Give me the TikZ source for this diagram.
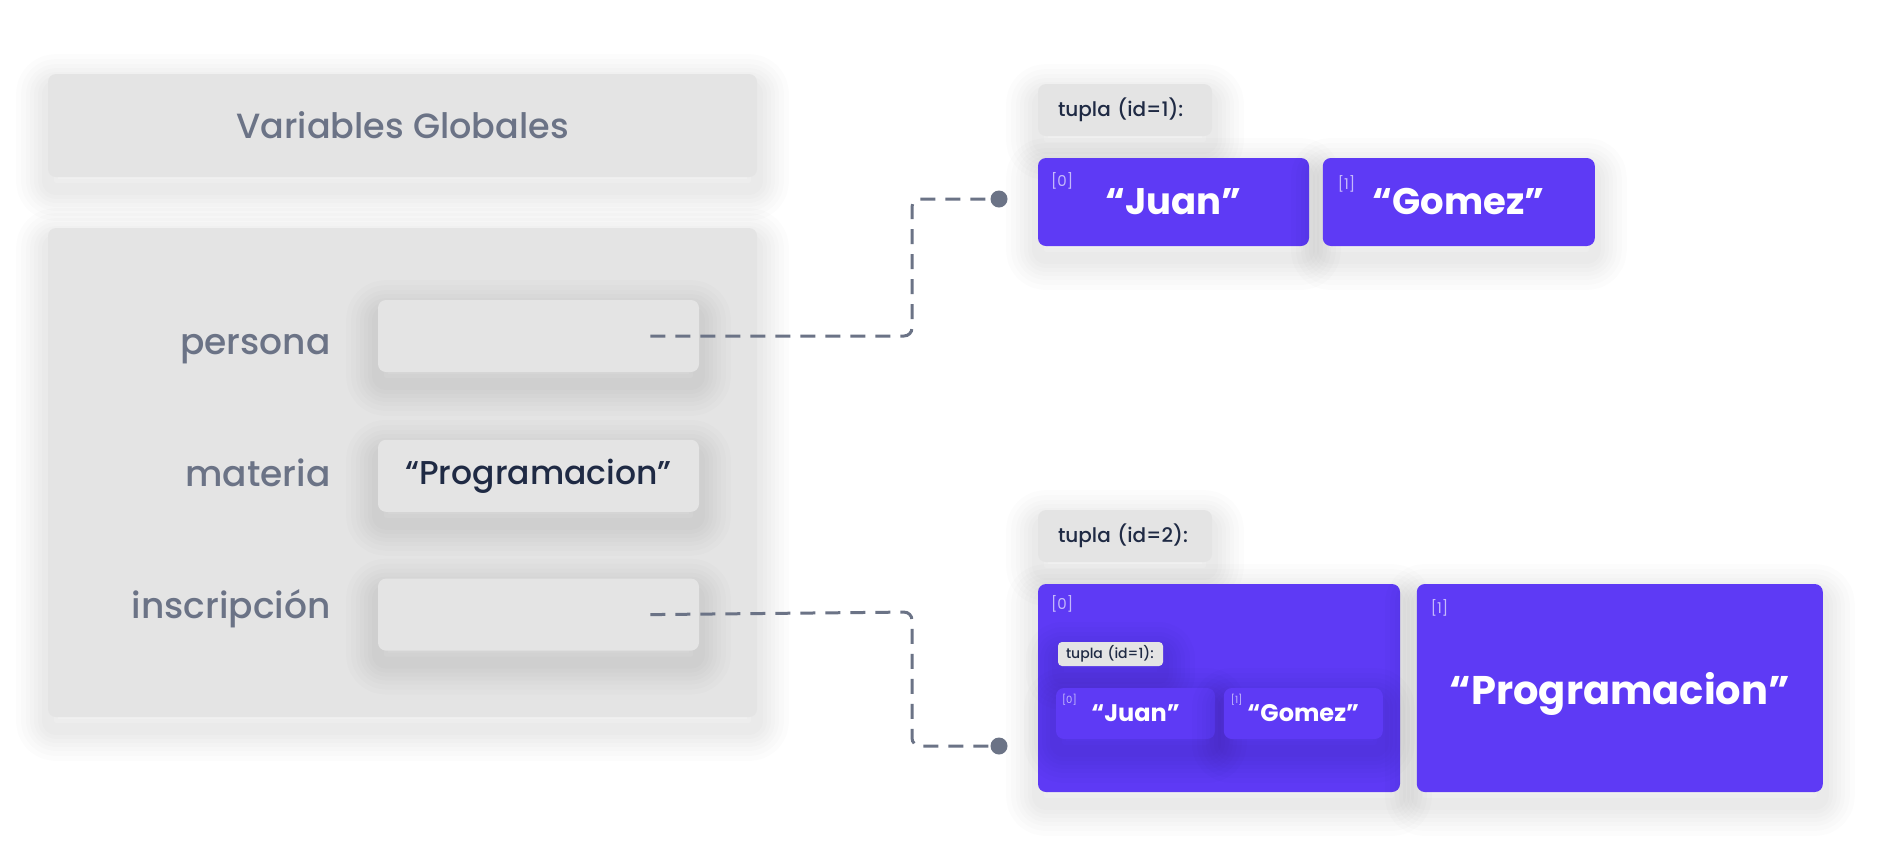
\documentclass[tikz,border=0pt]{standalone}
\usepackage{fontspec}
\setmainfont{Poppins}[UprightFont=* Medium, BoldFont=* Bold]
\newfontfamily\thinfont{Poppins}
\usetikzlibrary{positioning,calc}

\definecolor{boxgray}{HTML}{E4E4E4}
\definecolor{namegray}{HTML}{6B7386}
\definecolor{inkblue}{HTML}{1F2A44}
\definecolor{tuplecol}{HTML}{5E3AF5}
\definecolor{indexcol}{HTML}{C4B8FB}

\begin{document}
\begin{tikzpicture}[
    x=0.5pt, y=-0.5pt,
    halo/.style={preaction={draw=black, draw opacity=0.011, line width=#1, line join=round, transform canvas={yshift=-6pt}}},
    soft/.style={halo=32pt, halo=27pt, halo=22pt, halo=18pt, halo=14pt, halo=10pt, halo=6pt},
    gbox/.style={rectangle, fill=boxgray, rounded corners=4pt, inner sep=0pt, soft},
    valbox/.style={gbox, minimum width=160.5pt, minimum height=36pt, font=\fontsize{16.5}{20}\selectfont, text=inkblue},
    varname/.style={anchor=base east, inner sep=0pt, text=namegray, font=\fontsize{18}{21}\selectfont},
    taglabel/.style={gbox, align=left, text width=67pt, inner xsep=10pt, minimum height=26pt, text=inkblue, font=\fontsize{10}{12}\selectfont},
    elem/.style={rectangle, fill=tuplecol, rounded corners=4pt, inner sep=0pt, soft, text=white, font=\bfseries\fontsize{18.5}{22}\selectfont},
    idx/.style={anchor=north west, inner sep=0pt, text=indexcol, font=\thinfont\fontsize{7.5}{9}\selectfont},
    ptr/.style={draw=namegray, line width=1.5pt, dash pattern=on 7.5pt off 5pt, rounded corners=4pt},
    tip/.style={circle, fill=namegray, inner sep=0pt, minimum size=8.5pt}
]
    \fill[white] (0,0) rectangle (1880,864);
    \useasboundingbox (0,0) rectangle (1880,864);

    % variables globales
    \node[gbox, minimum width=354.5pt, minimum height=51.5pt, text=namegray, font=\fontsize{17.5}{21}\selectfont] (globales) at (402.5,125.5) {Variables Globales};
    \node[gbox, minimum width=354.5pt, minimum height=244.5pt] (marco) at (402.5,472.5) {};

    \node[valbox] (persona) at (538.5,336) {};
    \node[valbox, below=33.5pt of persona] (materia) {“Programacion”};
    \node[valbox, below=33pt of materia] (inscripcion) {};

    \node[varname] (nPersona) at (331,354) {persona};
    \node[varname] (nMateria) at (331,486) {materia};
    \node[varname] (nInscripcion) at (331,618) {inscripción};

    % tupla 1
    \node[taglabel] (tag1) at (1125,110) {tupla (id=1):};
    \node[elem, minimum width=135.5pt, minimum height=44pt] (juan) at (1173.5,202) {“Juan”};
    \node[elem, minimum width=136pt, minimum height=44pt, right=6.5pt of juan] (gomez) {“Gomez”};
    \node[idx] (juanIdx) at ($(juan.north west)+(13,14)$) {[0]};
    \node[idx] (gomezIdx) at ($(gomez.north west)+(15,17)$) {[1]};

    % tupla 2
    \node[taglabel] (tag2) at (1125,536) {tupla (id=2):};
    \node[elem, minimum width=181pt, minimum height=104pt] (par0) at (1219,688) {};
    \node[elem, minimum width=203pt, minimum height=104pt, text depth=0pt, right=8pt of par0, font=\bfseries\fontsize{20}{24}\selectfont] (par1) {“Programacion”};
    \node[idx] (par0Idx) at ($(par0.north west)+(13,11)$) {[0]};
    \node[idx] (par1Idx) at ($(par1.north west)+(14,15)$) {[1]};

    \node[taglabel, text width=44.5pt, inner xsep=4pt, minimum height=12pt, rounded corners=2pt, font=\fontsize{7}{8}\selectfont] (tagIn) at (1110.5,654) {tupla (id=1):};
    \node[elem, minimum width=79.5pt, minimum height=25.5pt, font=\bfseries\fontsize{12}{14}\selectfont] (juanIn) at (1135.5,713.5) {“Juan”};
    \node[elem, minimum width=79.5pt, minimum height=25.5pt, font=\bfseries\fontsize{12}{14}\selectfont, right=4pt of juanIn] (gomezIn) {“Gomez”};
    \node[idx, font=\thinfont\fontsize{5}{6}\selectfont] (juanInIdx) at ($(juanIn.north west)+(6,6)$) {[0]};
    \node[idx, font=\thinfont\fontsize{5}{6}\selectfont] (gomezInIdx) at ($(gomezIn.north west)+(7,6)$) {[1]};

    % punteros
    \coordinate (ptrA) at ($(persona.east)+(-49,0)$);
    \coordinate (bendA) at (912,336);
    \node[tip] (tipA) at (999,199) {};
    \draw[ptr] (ptrA) -- (bendA) |- (tipA);

    \coordinate (ptrB) at ($(inscripcion.east)+(-49,0)$);
    \coordinate (bendB) at (912,612);
    \node[tip] (tipB) at (999,746) {};
    \draw[ptr] (ptrB) -- (bendB) |- (tipB);
\end{tikzpicture}
\end{document}
